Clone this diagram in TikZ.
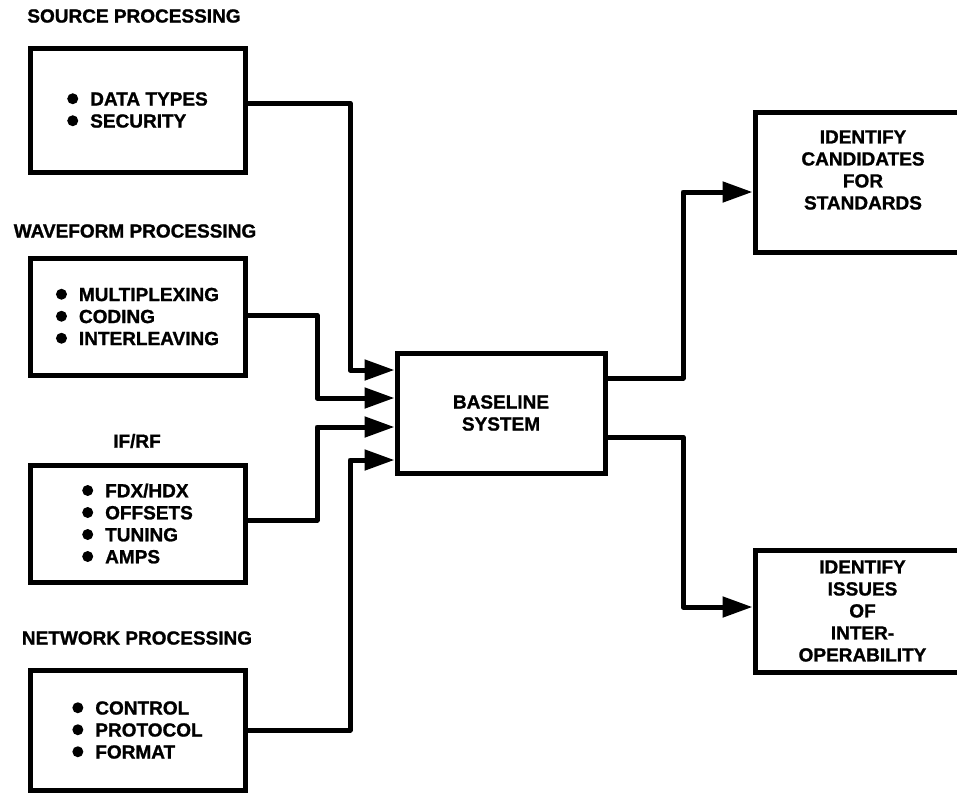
\documentclass[tikz,border=0pt]{standalone}
\usepackage{fontspec}
\setmainfont{Liberation Sans}[BoldFeatures={FakeBold=1.2}]
\usetikzlibrary{arrows.meta}
\newcommand\blt{\tikz[baseline=0pt]\fill (5.5pt,6.8pt) circle (5.5pt);\hspace{12pt}}
\begin{document}
\begin{tikzpicture}[x=1pt,y=-1pt,
  every node/.style={font=\bfseries\fontsize{19}{22}\selectfont, inner sep=0pt},
  box/.style={draw, line width=5pt, minimum width=215pt, align=left},
  ttl/.style={anchor=center},
  conn/.style={line width=5pt, line join=round, -{Triangle[length=30pt,width=20pt]}}]
\useasboundingbox (0,0) rectangle (957,796);
\clip (0,0) rectangle (957,796);
% titles
\node[ttl] (tsrc) at (134,16) {SOURCE PROCESSING};
\node[ttl] (twav) at (135,231) {WAVEFORM PROCESSING};
\node[ttl] (tif)  at (137,441) {IF/RF};
\node[ttl] (tnet) at (137,638) {NETWORK PROCESSING};
% left boxes
\node[box, minimum height=124pt] (src) at (137.5,110) {\blt DATA TYPES\\ \blt SECURITY};
\node[box, minimum height=117pt] (wav) at (137.5,316.5) {\blt MULTIPLEXING\\ \blt CODING\\ \blt INTERLEAVING};
\node[box, minimum height=117pt] (ifrf) at (137.5,523.5) {\blt FDX/HDX\\ \blt OFFSETS\\ \blt TUNING\\ \blt AMPS};
\node[box, minimum height=120pt] (net) at (137.5,730) {\blt CONTROL\\ \blt PROTOCOL\\ \blt FORMAT};
% baseline
\node[box, minimum width=208pt, minimum height=120pt, align=center] (base) at (501,413) {BASELINE\\SYSTEM};
% right boxes (cut off at the right edge)
\node[box, minimum height=140pt] (tbox) at (862.5,182) {};
\node[align=center] (ttxt) at (863,170) {IDENTIFY\\CANDIDATES\\FOR\\STANDARDS};
\node[box, minimum height=122pt, align=center] (bbox) at (862.5,611) {IDENTIFY\\ISSUES\\OF\\INTER-\\OPERABILITY};
% connectors
\draw[conn] (src.east |- 0,103) -- (350,103) -- (350,370) -- (base.west |- 0,370);
\draw[conn] (wav.east |- 0,315) -- (317,315) -- (317,398) -- (base.west |- 0,398);
\draw[conn] (ifrf.east |- 0,520) -- (317,520) -- (317,427) -- (base.west |- 0,427);
\draw[conn] (net.east |- 0,730) -- (350,730) -- (350,460) -- (base.west |- 0,460);
\draw[conn] (base.east |- 0,378) -- (683,378) -- (683,192) -- (tbox.west |- 0,192);
\draw[conn] (base.east |- 0,437) -- (683,437) -- (683,607) -- (bbox.west |- 0,607);
\end{tikzpicture}
\end{document}
